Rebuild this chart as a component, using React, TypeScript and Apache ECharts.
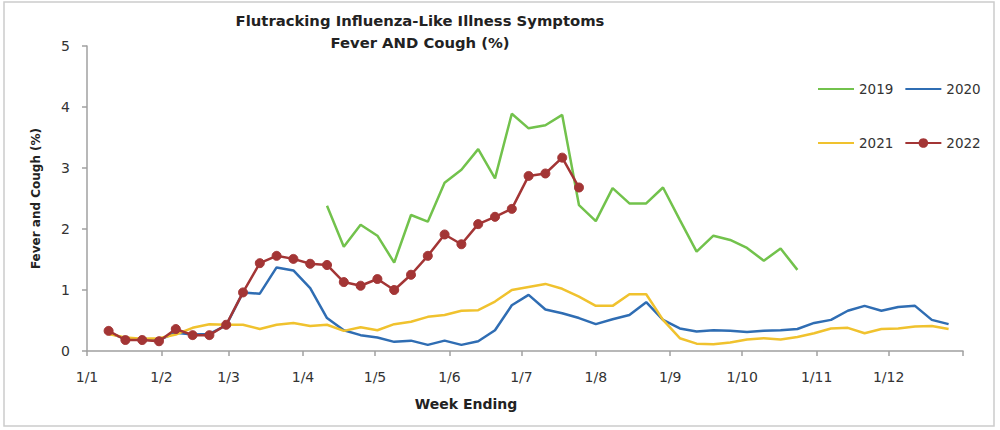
import React, { useEffect, useRef } from "react";
import * as echarts from "echarts";

// Month starts (day of year, 1 Jan = 0) and their tick labels (d/m)
const monthStartDays = [0, 31, 59, 90, 120, 151, 181, 212, 243, 273, 304, 334];
const monthLabels = ["1/1", "1/2", "1/3", "1/4", "1/5", "1/6", "1/7", "1/8", "1/9", "1/10", "1/11", "1/12"];
const yearEndDay = 365;
const yTicks = [0, 1, 2, 3, 4, 5];

// Week-ending dates: first week ends on day 9, then every 7 days
const firstWeekEnd = 9;
const daysPerWeek = 7;

// Series: first week index + weekly values (%)
const start2019 = 13;
const values2019 = [2.38, 1.71, 2.07, 1.89, 1.45, 2.23, 2.12, 2.76, 2.97, 3.31, 2.83, 3.89, 3.65, 3.70, 3.87, 2.39, 2.13, 2.67, 2.42, 2.42, 2.68, 2.15, 1.63, 1.89, 1.82, 1.69, 1.48, 1.68, 1.33];

const start2020 = 0;
const values2020 = [0.30, 0.20, 0.19, 0.18, 0.30, 0.27, 0.28, 0.42, 0.96, 0.94, 1.37, 1.32, 1.03, 0.54, 0.34, 0.26, 0.22, 0.15, 0.17, 0.10, 0.17, 0.10, 0.16, 0.34, 0.75, 0.92, 0.68, 0.62, 0.54, 0.44, 0.52, 0.59, 0.80, 0.51, 0.37, 0.32, 0.34, 0.33, 0.31, 0.33, 0.34, 0.36, 0.46, 0.51, 0.66, 0.74, 0.66, 0.72, 0.74, 0.51, 0.44];

const start2021 = 0;
const values2021 = [0.28, 0.22, 0.20, 0.21, 0.27, 0.38, 0.44, 0.43, 0.43, 0.36, 0.43, 0.46, 0.41, 0.43, 0.33, 0.39, 0.34, 0.44, 0.48, 0.56, 0.59, 0.66, 0.67, 0.81, 1.00, 1.05, 1.10, 1.02, 0.89, 0.74, 0.74, 0.93, 0.93, 0.51, 0.21, 0.12, 0.11, 0.14, 0.19, 0.21, 0.19, 0.23, 0.29, 0.37, 0.38, 0.29, 0.36, 0.37, 0.40, 0.41, 0.36];

const start2022 = 0;
const values2022 = [0.33, 0.18, 0.18, 0.16, 0.36, 0.26, 0.26, 0.43, 0.96, 1.44, 1.56, 1.51, 1.43, 1.41, 1.13, 1.07, 1.18, 1.00, 1.25, 1.56, 1.91, 1.75, 2.08, 2.20, 2.33, 2.87, 2.91, 3.17, 2.68];

const toPoints = (startWeek: number, vals: number[]) =>
  vals.map((v, i) => [firstWeekEnd + daysPerWeek * (startWeek + i), v]);

const FONT = "DejaVu Sans";
const noSymbol = { opacity: 0 };

export default function App() {
  const ref = useRef<HTMLDivElement>(null);

  useEffect(() => {
    if (!ref.current) return;
    const chart = echarts.init(ref.current, null, { renderer: "svg" });
    const labelMap: Record<number, string> = {};
    monthStartDays.forEach((d, i) => (labelMap[d] = monthLabels[i]));

    const legendText = { fontSize: 13.5, color: "#333333", fontFamily: FONT };

    chart.setOption({
      animation: false,
      backgroundColor: "#ffffff",
      textStyle: { fontFamily: FONT },
      grid: { left: 87, right: 37, top: 46, bottom: 79 },
      xAxis: {
        type: "value",
        min: 0,
        max: yearEndDay,
        splitLine: { show: false },
        axisLine: { show: true, lineStyle: { color: "#a0a0a0", width: 1.5 } },
        axisTick: {
          show: true,
          customValues: [...monthStartDays, yearEndDay],
          length: 5,
          lineStyle: { color: "#a0a0a0", width: 1.5 },
        },
        axisLabel: {
          customValues: monthStartDays,
          formatter: (v: number) => labelMap[v] ?? "",
          color: "#333333",
          fontSize: 14,
          fontFamily: FONT,
          margin: 19,
        },
      },
      yAxis: {
        type: "value",
        min: 0,
        max: 5,
        interval: 1,
        name: "Fever and Cough (%)",
        nameLocation: "middle",
        nameGap: 45,
        nameTextStyle: { fontSize: 12, fontWeight: "bold", color: "#222222", fontFamily: FONT },
        splitLine: { show: false },
        axisLine: { show: true, lineStyle: { color: "#a0a0a0", width: 1.5 } },
        axisTick: { show: true, length: 5, lineStyle: { color: "#a0a0a0", width: 1.5 } },
        axisLabel: {
          color: "#333333",
          fontSize: 14,
          fontFamily: FONT,
          margin: 17,
          formatter: (v: number) => (yTicks.includes(v) ? String(v) : ""),
        },
      },
      legend: [
        {
          data: [
            { name: "2019", itemStyle: noSymbol },
            { name: "2020", itemStyle: noSymbol },
          ],
          left: 812,
          top: 77,
          itemWidth: 36,
          itemHeight: 12,
          itemGap: 11,
          textStyle: legendText,
        },
        {
          data: [{ name: "2021", itemStyle: noSymbol }, "2022"],
          left: 812,
          top: 131,
          itemWidth: 36,
          itemHeight: 12,
          itemGap: 11,
          textStyle: legendText,
        },
      ],
      graphic: [
        {
          type: "rect",
          shape: { x: 4, y: 2, width: 990, height: 424 },
          style: { fill: "none", stroke: "#cccccc", lineWidth: 1.5 },
          silent: true,
        },
        {
          type: "text",
          x: 420,
          y: 20,
          style: {
            text: "Flutracking Influenza-Like Illness Symptoms",
            font: `bold 14.8px ${FONT}`,
            fill: "#222222",
            textAlign: "center",
            textVerticalAlign: "middle",
          },
        },
        {
          type: "text",
          x: 420,
          y: 42,
          style: {
            text: "Fever AND Cough (%)",
            font: `bold 14.8px ${FONT}`,
            fill: "#222222",
            textAlign: "center",
            textVerticalAlign: "middle",
          },
        },
        {
          type: "text",
          x: 466,
          y: 404,
          style: {
            text: "Week Ending",
            font: `bold 14px ${FONT}`,
            fill: "#222222",
            textAlign: "center",
            textVerticalAlign: "middle",
          },
        },
      ],
      series: [
        {
          name: "2019",
          type: "line",
          data: toPoints(start2019, values2019),
          symbol: "none",
          lineStyle: { color: "#72c24c", width: 2.5 },
          itemStyle: { color: "#72c24c" },
        },
        {
          name: "2020",
          type: "line",
          data: toPoints(start2020, values2020),
          symbol: "none",
          lineStyle: { color: "#2f6db3", width: 2.5 },
          itemStyle: { color: "#2f6db3" },
        },
        {
          name: "2021",
          type: "line",
          data: toPoints(start2021, values2021),
          symbol: "none",
          lineStyle: { color: "#f0c22e", width: 2.5 },
          itemStyle: { color: "#f0c22e" },
        },
        {
          name: "2022",
          type: "line",
          data: toPoints(start2022, values2022),
          symbol: "circle",
          symbolSize: 9,
          lineStyle: { color: "#a33535", width: 2.5 },
          itemStyle: { color: "#a33535", borderColor: "#a33535" },
        },
      ],
    });
    return () => chart.dispose();
  }, []);

  return (
    <div
      ref={ref}
      style={{ position: "fixed", left: 0, top: 0, width: 1000, height: 430 }}
    />
  );
}
